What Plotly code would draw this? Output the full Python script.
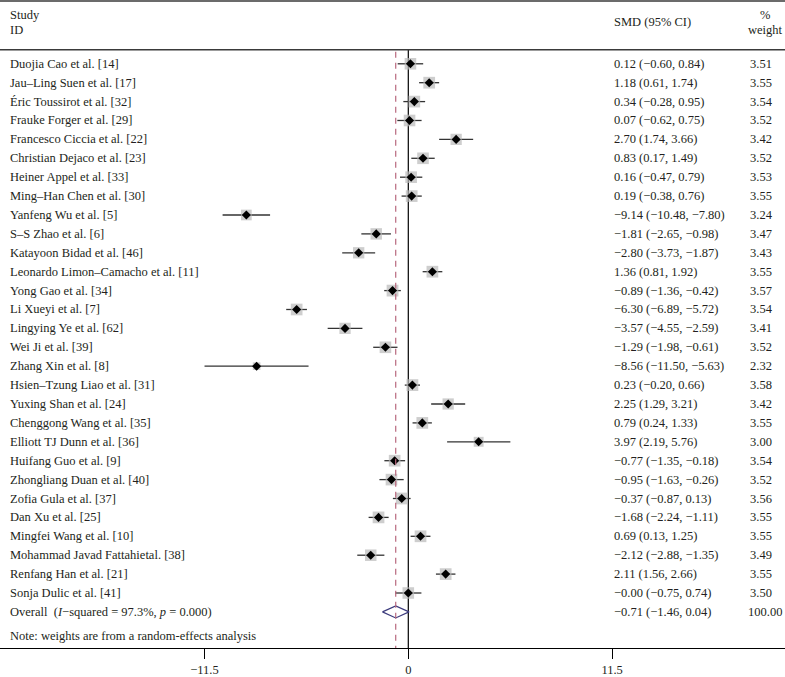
import plotly.graph_objects as go

studies = [
    "Duojia Cao et al. [14]", "Jau–Ling Suen et al. [17]", "Éric Toussirot et al. [32]",
    "Frauke Forger et al. [29]", "Francesco Ciccia et al. [22]", "Christian Dejaco et al. [23]",
    "Heiner Appel et al. [33]", "Ming–Han Chen et al. [30]", "Yanfeng Wu et al. [5]",
    "S–S Zhao et al. [6]", "Katayoon Bidad et al. [46]", "Leonardo Limon–Camacho et al. [11]",
    "Yong Gao et al. [34]", "Li Xueyi et al. [7]", "Lingying Ye et al. [62]",
    "Wei Ji et al. [39]", "Zhang Xin et al. [8]", "Hsien–Tzung Liao et al. [31]",
    "Yuxing Shan et al. [24]", "Chenggong Wang et al. [35]", "Elliott TJ Dunn et al. [36]",
    "Huifang Guo et al. [9]", "Zhongliang Duan et al. [40]", "Zofia Gula et al. [37]",
    "Dan Xu et al. [25]", "Mingfei Wang et al. [10]", "Mohammad Javad Fattahietal. [38]",
    "Renfang Han et al. [21]", "Sonja Dulic et al. [41]",
]
smd = [0.12, 1.18, 0.34, 0.07, 2.70, 0.83, 0.16, 0.19, -9.14, -1.81, -2.80, 1.36, -0.89, -6.30,
       -3.57, -1.29, -8.56, 0.23, 2.25, 0.79, 3.97, -0.77, -0.95, -0.37, -1.68, 0.69, -2.12, 2.11, -0.00]
lower = [-0.60, 0.61, -0.28, -0.62, 1.74, 0.17, -0.47, -0.38, -10.48, -2.65, -3.73, 0.81, -1.36, -6.89,
         -4.55, -1.98, -11.50, -0.20, 1.29, 0.24, 2.19, -1.35, -1.63, -0.87, -2.24, 0.13, -2.88, 1.56, -0.75]
upper = [0.84, 1.74, 0.95, 0.75, 3.66, 1.49, 0.79, 0.76, -7.80, -0.98, -1.87, 1.92, -0.42, -5.72,
         -2.59, -0.61, -5.63, 0.66, 3.21, 1.33, 5.76, -0.18, -0.26, 0.13, -1.11, 1.25, -1.35, 2.66, 0.74]
weights = [3.51, 3.55, 3.54, 3.52, 3.42, 3.52, 3.53, 3.55, 3.24, 3.47, 3.43, 3.55, 3.57, 3.54,
           3.41, 3.52, 2.32, 3.58, 3.42, 3.55, 3.00, 3.54, 3.52, 3.56, 3.55, 3.55, 3.49, 3.55, 3.50]
overall_label = "Overall  (<i>I</i>−squared = 97.3%, <i>p</i> = 0.000)"
overall = {"est": -0.71, "lo": -1.46, "hi": 0.04, "w": "100.00"}
note = "Note: weights are from a random-effects analysis"
tick_vals = [-11.5, 0, 11.5]
tick_text = ["−11.5", "0", "11.5"]

FONT = "Liberation Serif"
TXT = "#231f20"
W, H = 785, 677
n = len(studies)
rows = list(range(1, n + 1))
overall_row = n + 1


def fmt(v):
    s = f"{v:.2f}"
    if s.startswith("-"):
        s = "−" + s[1:]
    return s


fig = go.Figure()

# CI lines
xs, ys = [], []
for r, lo, hi in zip(rows, lower, upper):
    xs += [lo, hi, None]
    ys += [r, r, None]
fig.add_trace(go.Scatter(x=xs, y=ys, mode="lines", line=dict(color="#333333", width=1.3),
                         hoverinfo="skip", showlegend=False))
# weight boxes
fig.add_trace(go.Scatter(x=smd, y=rows, mode="markers",
                         marker=dict(symbol="square", color="#b9b9b9",
                                     size=[3.3 * w for w in weights], line=dict(width=0)),
                         hoverinfo="skip", showlegend=False))
# point estimates
fig.add_trace(go.Scatter(x=smd, y=rows, mode="markers",
                         marker=dict(symbol="diamond", color="#000000", size=7),
                         hoverinfo="skip", showlegend=False))
# overall diamond
h = 0.32
fig.add_trace(go.Scatter(
    x=[overall["lo"], overall["est"], overall["hi"], overall["est"], overall["lo"]],
    y=[overall_row, overall_row - h, overall_row, overall_row + h, overall_row],
    mode="lines", fill="toself", fillcolor="rgba(255,255,255,0)",
    line=dict(color="#3b3a7c", width=1.2), hoverinfo="skip", showlegend=False))

y_top = -2.375
y_bot = 31.91
header_line = 0.26
top_line = -2.32

shapes = [
    dict(type="line", xref="paper", yref="y", x0=0, x1=1, y0=top_line, y1=top_line,
         line=dict(color="#3a3a3a", width=1.6)),
    dict(type="line", xref="paper", yref="y", x0=0, x1=1, y0=header_line, y1=header_line,
         line=dict(color="#3a3a3a", width=1.6)),
    dict(type="line", xref="x", yref="y", x0=0, x1=0, y0=header_line, y1=y_bot,
         line=dict(color="#000000", width=1.2), layer="below"),
    dict(type="line", xref="x", yref="y", x0=overall["est"], x1=overall["est"], y0=header_line + 0.1, y1=y_bot,
         line=dict(color="#b8687e", width=1.2, dash="6px,5px")),
]

ann = []
def add(text, xpx, y, anchor="left", size=12.5):
    ann.append(dict(text=text, xref="paper", yref="y", x=xpx / W, y=y, xanchor=anchor,
                    yanchor="middle", showarrow=False, font=dict(family=FONT, size=size, color=TXT)))

add("Study", 8, -1.6)
add("ID", 8, -0.78)
add("SMD (95% CI)", 612, -1.2)
add("%", 765, -1.6, anchor="center")
add("weight", 765, -0.78, anchor="center")

for r, s, e, lo, hi, w in zip(rows, studies, smd, lower, upper, weights):
    add(s, 8, r)
    add(f"{fmt(e)} ({fmt(lo)}, {fmt(hi)})", 612, r)
    add(f"{w:.2f}", 748, r)

add(overall_label, 8, overall_row)
add(f"{fmt(overall['est'])} ({fmt(overall['lo'])}, {fmt(overall['hi'])})", 612, overall_row)
add(overall["w"], 746, overall_row)
add(note, 8, overall_row + 1.3)

px_per_unit = 17.72
zero_px = 408.3
fig.update_layout(
    width=W, height=H,
    margin=dict(l=0, r=0, t=0, b=27),
    plot_bgcolor="white", paper_bgcolor="white",
    xaxis=dict(range=[-zero_px / px_per_unit, (W - zero_px) / px_per_unit],
               tickvals=tick_vals, ticktext=tick_text, ticks="outside", ticklen=10,
               tickcolor="#000000", tickwidth=1, showline=True, linecolor="#000000", linewidth=1.2,
               showgrid=False, zeroline=False, fixedrange=True,
               tickfont=dict(family=FONT, size=12.5, color=TXT)),
    yaxis=dict(range=[y_bot, y_top], showgrid=False, zeroline=False, showticklabels=False,
               showline=False, fixedrange=True),
    shapes=shapes, annotations=ann, showlegend=False,
)

fig.write_html("out.html", config={"displayModeBar": False},
               post_script="document.body.style.margin='0';document.body.style.overflow='hidden';")
